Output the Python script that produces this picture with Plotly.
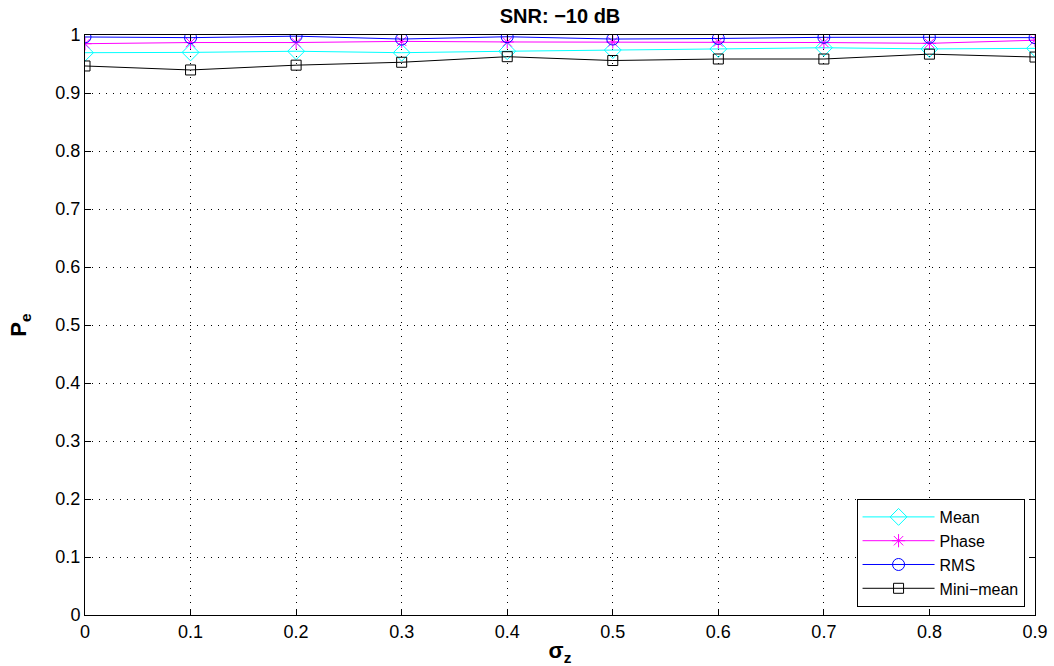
import plotly.graph_objects as go

sigma_z = [0, 0.1, 0.2, 0.3, 0.4, 0.5, 0.6, 0.7, 0.8, 0.9]
mean_pe = [0.9695, 0.970, 0.972, 0.9695, 0.972, 0.974, 0.976, 0.978, 0.976, 0.977]
phase_pe = [0.985, 0.987, 0.987, 0.989, 0.988, 0.988, 0.988, 0.987, 0.9856, 0.991]
rms_pe = [0.9966, 0.9954, 0.998, 0.993, 0.997, 0.993, 0.994, 0.996, 0.996, 0.9954]
minimean_pe = [0.9466, 0.9397, 0.948, 0.953, 0.9626, 0.956, 0.9586, 0.9586, 0.967, 0.962]

xticks = [0, 0.1, 0.2, 0.3, 0.4, 0.5, 0.6, 0.7, 0.8, 0.9]
xticklabels = ["0", "0.1", "0.2", "0.3", "0.4", "0.5", "0.6", "0.7", "0.8", "0.9"]
yticks = [0, 0.1, 0.2, 0.3, 0.4, 0.5, 0.6, 0.7, 0.8, 0.9, 1]
yticklabels = ["0", "0.1", "0.2", "0.3", "0.4", "0.5", "0.6", "0.7", "0.8", "0.9", "1"]

series = [
    ("Mean", mean_pe, "#00FFFF", "diamond-open", 13),
    ("Phase", phase_pe, "#FF00FF", "asterisk-open", 11),
    ("RMS", rms_pe, "#0000FF", "circle-open", 12),
    ("Mini\u2212mean", minimean_pe, "#000000", "square-open", 10),
]

fig = go.Figure()
for name, vals, color, sym, sz in series:
    fig.add_trace(go.Scatter(
        x=sigma_z, y=vals, name=name, mode="lines+markers",
        line=dict(color=color, width=1),
        marker=dict(symbol=sym, size=sz, color=color, line=dict(color=color, width=1)),
    ))

font = "Liberation Sans, Arial, Helvetica, sans-serif"
fig.update_layout(
    width=1054, height=666,
    margin=dict(l=85, r=19, t=35, b=51, autoexpand=False),
    paper_bgcolor="white", plot_bgcolor="white",
    font=dict(family=font, size=18, color="black"),
    title=dict(text="<b>SNR: \u221210 dB</b>", x=0.5, xref="paper", xanchor="center",
               yref="container", y=0.976, yanchor="middle", font=dict(size=20)),
    showlegend=True,
    legend=dict(x=0.989, y=0.0138, xanchor="right", yanchor="bottom",
                bordercolor="black", borderwidth=1, bgcolor="white",
                font=dict(size=16), itemwidth=72, tracegroupgap=0),
)
fig.update_xaxes(
    range=[0, 0.9], tickvals=xticks, ticktext=xticklabels,
    showline=True, linecolor="black", linewidth=1, mirror="ticks",
    ticks="inside", ticklen=6, tickcolor="black",
    showgrid=True, gridcolor="black", gridwidth=1, griddash="1px,6px",
    zeroline=False, automargin=False,
    title=dict(text="<b>\u03c3<sub>z</sub></b>", standoff=4),
)
fig.update_yaxes(
    range=[0, 1], tickvals=yticks, ticktext=yticklabels,
    showline=True, linecolor="black", linewidth=1, mirror="ticks",
    ticks="inside", ticklen=6, tickcolor="black",
    showgrid=True, gridcolor="black", gridwidth=1, griddash="1px,6px",
    zeroline=False, automargin=False,
    title=dict(text="<b>P<sub>e</sub></b>", standoff=22),
)

fig.write_html("out.html", config={"displayModeBar": False},
               post_script="document.body.style.margin='0px';")
